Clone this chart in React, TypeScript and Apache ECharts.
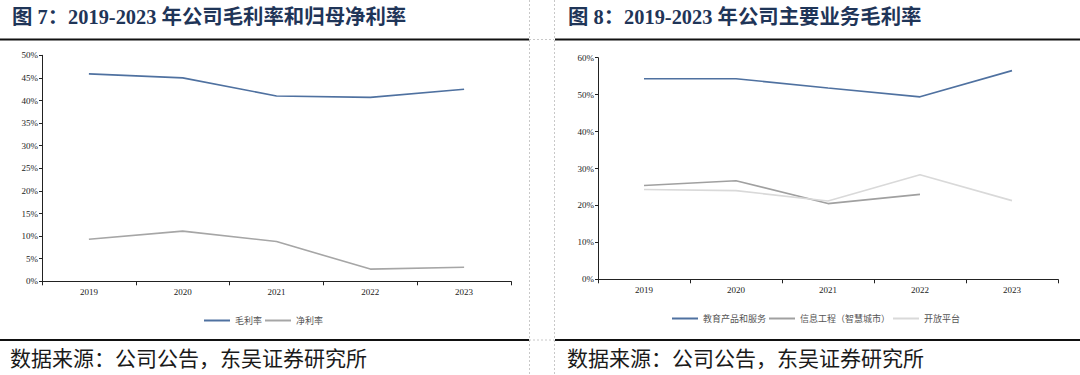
import React, { useEffect, useRef } from "react";
import * as echarts from "echarts";

const years = ["2019", "2020", "2021", "2022", "2023"];
const grossMargin = [45.9, 45.0, 41.0, 40.7, 42.5];
const netMargin = [9.3, 11.1, 8.8, 2.7, 3.1];

const eduProducts = [54.3, 54.3, 51.8, 49.4, 56.5];
const infoEngineering: (number | null)[] = [25.4, 26.7, 20.5, 23.0, null];
const openPlatform = [24.3, 24.0, 21.2, 28.3, 21.3];

const leftTitle = "图 7：2019-2023 年公司毛利率和归母净利率";
const rightTitle = "图 8：2019-2023 年公司主要业务毛利率";
const sourceText = "数据来源：公司公告，东吴证券研究所";

const BLUE = "#4f71a0";
const GRAY = "#a6a6a6";
const LIGHT = "#d9d9d9";
const SERIF = "'Liberation Serif', 'Noto Sans CJK SC', serif";

export default function App() {
  const ref = useRef<HTMLDivElement>(null);
  useEffect(() => {
    if (!ref.current) return;
    const chart = echarts.init(ref.current, undefined, { renderer: "svg" });
    const axisLabel = { fontSize: 9, fontFamily: SERIF, color: "#222" };
    const yAxisBase = {
      type: "value" as const,
      min: 0,
      axisLine: { show: true, lineStyle: { color: "#222", width: 1 } },
      axisTick: { show: true, length: 3, lineStyle: { color: "#222" } },
      splitLine: { show: false },
      axisLabel: { ...axisLabel, formatter: "{value}%", margin: 4 },
    };
    const xAxisBase = {
      type: "category" as const,
      data: years,
      boundaryGap: true,
      axisLine: { show: true, lineStyle: { color: "#222", width: 1 } },
      axisTick: { show: true, length: 4, lineStyle: { color: "#222" } },
      axisLabel: { ...axisLabel, margin: 6 },
    };
    const lineSeries = (name: string, data: any[], color: string, xi: number) => ({
      type: "line" as const,
      name,
      data,
      xAxisIndex: xi,
      yAxisIndex: xi,
      symbol: "none",
      lineStyle: { color, width: 1.6 },
      itemStyle: { color },
    });
    const legendBase = {
      icon: "rect",
      itemWidth: 26,
      itemHeight: 2,
      itemGap: 3,
      textStyle: { fontSize: 9, color: "#555", fontFamily: "'Noto Sans CJK SC', sans-serif" },
    };
    chart.setOption({
      animation: false,
      backgroundColor: "#fff",
      grid: [
        { left: 42, top: 55.3, width: 469, height: 226 },
        { left: 598, top: 57.7, width: 460, height: 221.6 },
      ],
      xAxis: [
        { ...xAxisBase, gridIndex: 0 },
        { ...xAxisBase, gridIndex: 1 },
      ],
      yAxis: [
        { ...yAxisBase, gridIndex: 0, max: 50, interval: 5 },
        { ...yAxisBase, gridIndex: 1, max: 60, interval: 10 },
      ],
      legend: [
        { ...legendBase, left: 199, top: 311, data: ["毛利率", "净利率"] },
        { ...legendBase, left: 667, top: 309, data: ["教育产品和服务", "信息工程（智慧城市）", "开放平台"] },
      ],
      series: [
        lineSeries("毛利率", grossMargin, BLUE, 0),
        lineSeries("净利率", netMargin, GRAY, 0),
        lineSeries("教育产品和服务", eduProducts, BLUE, 1),
        lineSeries("信息工程（智慧城市）", infoEngineering, "#a0a0a0", 1),
        lineSeries("开放平台", openPlatform, LIGHT, 1),
      ],
      graphic: [
        { type: "line", shape: { x1: 529.5, y1: 0, x2: 529.5, y2: 375 }, style: { stroke: "#c8c8c8", lineWidth: 1, lineDash: [2, 2] } },
        { type: "line", shape: { x1: 554.5, y1: 0, x2: 554.5, y2: 375 }, style: { stroke: "#c8c8c8", lineWidth: 1, lineDash: [2, 2] } },
        { type: "line", shape: { x1: 529, y1: 39.5, x2: 554, y2: 39.5 }, style: { stroke: "#c8c8c8", lineWidth: 1, lineDash: [2, 2] } },
        { type: "line", shape: { x1: 529, y1: 340, x2: 554, y2: 340 }, style: { stroke: "#c8c8c8", lineWidth: 1, lineDash: [2, 2] } },
        { type: "rect", shape: { x: 0, y: 38.5, width: 529, height: 2 }, style: { fill: "#111" } },
        { type: "rect", shape: { x: 555, y: 38.5, width: 525, height: 2 }, style: { fill: "#111" } },
        { type: "rect", shape: { x: 0, y: 339, width: 529, height: 2 }, style: { fill: "#111" } },
        { type: "rect", shape: { x: 555, y: 339, width: 525, height: 2 }, style: { fill: "#111" } },
        {
          type: "text", x: 12, y: 17,
          style: { text: leftTitle, fontSize: 20.4, fontWeight: "bold", fontFamily: SERIF, fill: "#1f3558", verticalAlign: "middle" },
        },
        {
          type: "text", x: 568, y: 17,
          style: { text: rightTitle, fontSize: 20.4, fontWeight: "bold", fontFamily: SERIF, fill: "#1f3558", verticalAlign: "middle" },
        },
        {
          type: "text", x: 10, y: 359,
          style: { text: sourceText, fontSize: 21, fontFamily: SERIF, fill: "#1a1a1a", verticalAlign: "middle" },
        },
        {
          type: "text", x: 567, y: 359,
          style: { text: sourceText, fontSize: 21, fontFamily: SERIF, fill: "#1a1a1a", verticalAlign: "middle" },
        },
      ],
    });
    return () => chart.dispose();
  }, []);
  return (
    <div
      ref={ref}
      style={{ position: "absolute", left: 0, top: 0, width: 1080, height: 375 }}
    />
  );
}
